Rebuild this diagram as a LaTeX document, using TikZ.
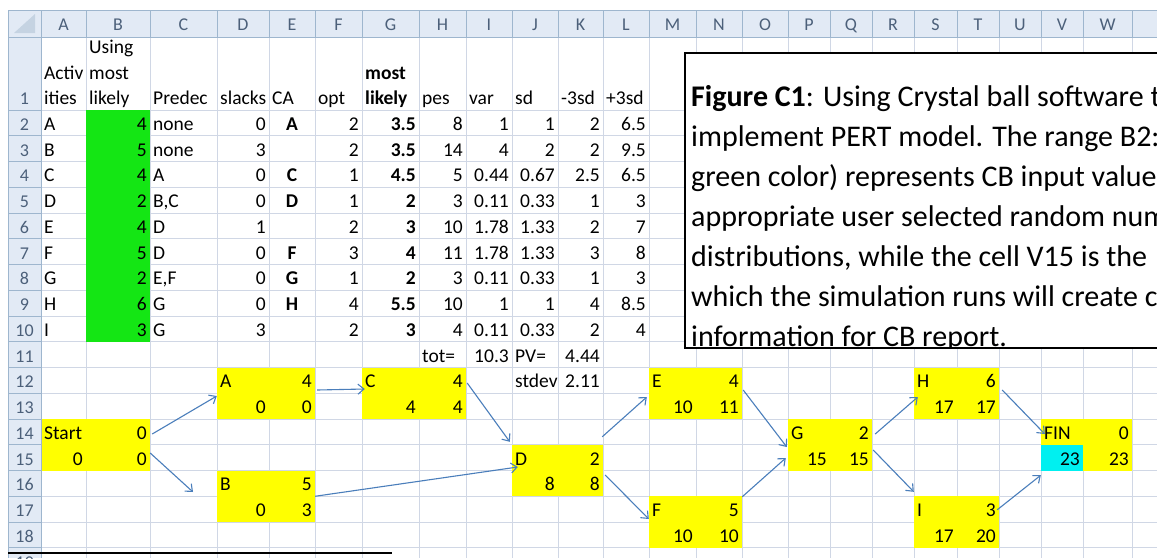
\documentclass[tikz,border=0pt]{standalone}
\usepackage{fontspec}
\setmainfont{Carlito}
\usetikzlibrary{arrows.meta,calc}
\definecolor{gridc}{RGB}{208,215,229}
\definecolor{hdrfill}{RGB}{226,234,245}
\definecolor{hdrline}{RGB}{158,182,206}
\definecolor{hdrtext}{RGB}{76,96,122}
\definecolor{xlgreen}{RGB}{20,230,20}
\definecolor{xlyellow}{RGB}{255,255,0}
\definecolor{xlcyan}{RGB}{0,240,240}
\definecolor{arrowblue}{RGB}{74,126,187}
\newcommand\cellfont{\fontsize{19.5}{22}\selectfont}
\newcommand\boxfont{\fontsize{30}{36}\selectfont}
\newcommand\setcol[3]{\expandafter\def\csname cl#1\endcsname{#2}\expandafter\def\csname cr#1\endcsname{#3}}
\setcol{A}{41}{86}\setcol{B}{86}{150}\setcol{C}{150}{217}\setcol{D}{217}{269}
\setcol{E}{269}{315}\setcol{F}{315}{362}\setcol{G}{362}{419}\setcol{H}{419}{466}
\setcol{I}{466}{512}\setcol{J}{512}{558}\setcol{K}{558}{603}\setcol{L}{603}{649}
\setcol{M}{649}{696}\setcol{N}{696}{742}\setcol{O}{742}{788}\setcol{P}{788}{830}
\setcol{Q}{830}{872}\setcol{R}{872}{914}\setcol{S}{914}{957}\setcol{T}{957}{999}
\setcol{U}{999}{1041}\setcol{V}{1041}{1083}\setcol{W}{1083}{1132}
\newcommand\rowbase[1]{\pgfmathsetmacro\yb{110+(#1-1)*25.75-5.5}}
\newcommand\xlR[3]{\rowbase{#2}\pgfmathsetmacro\xx{\csname cr#1\endcsname-3}%
  \node[ct,anchor=base east] (c#1#2) at (\xx,\yb) {#3};}
\newcommand\xlL[3]{\rowbase{#2}\pgfmathsetmacro\xx{\csname cl#1\endcsname+3}%
  \node[ct,anchor=base west] (c#1#2) at (\xx,\yb) {#3};}
\newcommand\xlC[3]{\rowbase{#2}\pgfmathsetmacro\xx{(\csname cl#1\endcsname+\csname cr#1\endcsname)/2}%
  \node[ct,anchor=base] (c#1#2) at (\xx,\yb) {#3};}
\tikzset{
  ct/.style={inner sep=0pt,font=\cellfont},
  ybox/.style={fill=xlyellow,inner sep=0pt,draw=none},
  conn/.style={draw=arrowblue,line width=1.1pt,-{Straight Barb[length=6pt,width=10pt]}},
  gridl/.style={draw=gridc,line width=0.9pt},
  hdrl/.style={draw=hdrline,line width=0.8pt},
  hdrt/.style={inner sep=0pt,font=\fontsize{18}{20}\selectfont,text=hdrtext},
  boxt/.style={inner sep=0pt,font=\boxfont,anchor=base west}
}
\begin{document}
\begin{tikzpicture}[x=1pt,y=-1pt]
\useasboundingbox (0,0) rectangle (1157,558);
\clip (0,0) rectangle (1157,558);
\fill[white] (0,0) rectangle (1157,558);
% grid
\foreach \x in {41,86,150,217,269,315,362,419,466,512,558,603,649,696,742,788,830,872,914,957,999,1041,1083,1132}
  \draw[gridl] (\x,37) -- (\x,558);
\foreach \k in {0,...,18}
  \draw[gridl] (41,{110+\k*25.75}) -- (1157,{110+\k*25.75});
% fills
\fill[xlgreen] (86,110) rectangle (150,341.75);
\node[ybox,minimum width=109pt,minimum height=51.5pt] (nStart) at (95.5,444.75) {};
\node[ybox,minimum width=98pt,minimum height=51.5pt] (nA) at (266,393.25) {};
\node[ybox,minimum width=104pt,minimum height=51.5pt] (nC) at (414,393.25) {};
\node[ybox,minimum width=98pt,minimum height=51.5pt] (nB) at (266,496.25) {};
\node[ybox,minimum width=91pt,minimum height=51.5pt] (nD) at (557.5,470.5) {};
\node[ybox,minimum width=93pt,minimum height=51.5pt] (nE) at (695.5,393.25) {};
\node[ybox,minimum width=93pt,minimum height=51.5pt] (nF) at (695.5,522) {};
\node[ybox,minimum width=84pt,minimum height=51.5pt] (nG) at (830,444.75) {};
\node[ybox,minimum width=85pt,minimum height=51.5pt] (nH) at (956.5,393.25) {};
\node[ybox,minimum width=85pt,minimum height=51.5pt] (nI) at (956.5,522) {};
\node[ybox,minimum width=91pt,minimum height=51.5pt] (nFIN) at (1086.5,444.75) {};
\fill[xlcyan] (1041,444.75) rectangle (1083,470.5);
% header row
\fill[hdrfill] (8,10) rectangle (1157,37);
\fill[hdrfill] (8,37) rectangle (41,558);
\foreach \x in {41,86,150,217,269,315,362,419,466,512,558,603,649,696,742,788,830,872,914,957,999,1041,1083,1132}
  \draw[hdrl] (\x,10) -- (\x,37);
\foreach \k in {0,...,18}
  \draw[hdrl] (8,{110+\k*25.75}) -- (41,{110+\k*25.75});
\draw[hdrl] (8,10) -- (1157,10);
\draw[hdrl] (8,37) -- (1157,37);
\draw[hdrl] (41,10) -- (41,558);
\draw[hdrl] (8,10) -- (8,558);
\fill[hdrline!60] (35,14) -- (35,33) -- (14,33) -- cycle;
\foreach \c/\m in {A/63.5,B/118,C/183.5,D/243,E/292,F/338.5,G/390.5,H/442.5,I/489,J/535,K/580.5,L/626,M/672.5,N/719,O/765,P/809,Q/851,R/893,S/935.5,T/978,U/1020,V/1062,W/1107.5}
  \node[hdrt,anchor=base] (h\c) at (\m,30) {\c};
\node[hdrt,anchor=base] (r1) at (24.5,104.5) {1};
\foreach \r in {2,...,19}{
  \pgfmathsetmacro\yy{110+(\r-1)*25.75-5.5}
  \node[hdrt,anchor=base] (r\r) at (24.5,\yy) {\r};
}
% row 1 headings
\node[ct,anchor=base west] (hA1) at (44,79) {Activ};
\node[ct,anchor=base west] (hA2) at (44,104.5) {ities};
\node[ct,anchor=base west] (hB0) at (89,53) {Using};
\node[ct,anchor=base west] (hB1) at (89,79) {most};
\node[ct,anchor=base west] (hB2) at (89,104.5) {likely};
\node[ct,anchor=base west] (hC) at (153,104.5) {Predec};
\node[ct,anchor=base west] (hD) at (220,104.5) {slacks};
\node[ct,anchor=base west] (hE) at (272,104.5) {CA};
\node[ct,anchor=base west] (hF) at (318,104.5) {opt};
\node[ct,anchor=base west] (hG1) at (365,79) {\textbf{most}};
\node[ct,anchor=base west] (hG2) at (365,104.5) {\textbf{likely}};
\node[ct,anchor=base west] (hH) at (422,104.5) {pes};
\node[ct,anchor=base west] (hI) at (469,104.5) {var};
\node[ct,anchor=base west] (hJ) at (515,104.5) {sd};
\node[ct,anchor=base west] (hK) at (561,104.5) {-3sd};
\node[ct,anchor=base west] (hL) at (606,104.5) {+3sd};
% table body
\foreach \v [count=\i from 2] in {A,B,C,D,E,F,G,H,I} {\xlL{A}{\i}{\v}}
\foreach \v [count=\i from 2] in {4,5,4,2,4,5,2,6,3} {\xlR{B}{\i}{\v}}
\foreach \v [count=\i from 2] in {none,none,A,{B,C},D,D,{E,F},G,G} {\xlL{C}{\i}{\v}}
\foreach \v [count=\i from 2] in {0,3,0,0,1,0,0,0,3} {\xlR{D}{\i}{\v}}
\foreach \i/\v in {2/A,4/C,5/D,7/F,8/G,9/H} {\xlC{E}{\i}{\textbf{\v}}}
\foreach \v [count=\i from 2] in {2,2,1,1,2,3,1,4,2} {\xlR{F}{\i}{\v}}
\foreach \v [count=\i from 2] in {3.5,3.5,4.5,2,3,4,2,5.5,3} {\xlR{G}{\i}{\textbf{\v}}}
\foreach \v [count=\i from 2] in {8,14,5,3,10,11,3,10,4} {\xlR{H}{\i}{\v}}
\foreach \v [count=\i from 2] in {1,4,0.44,0.11,1.78,1.78,0.11,1,0.11} {\xlR{I}{\i}{\v}}
\foreach \v [count=\i from 2] in {1,2,0.67,0.33,1.33,1.33,0.33,1,0.33} {\xlR{J}{\i}{\v}}
\foreach \v [count=\i from 2] in {2,2,2.5,1,2,3,1,4,2} {\xlR{K}{\i}{\v}}
\foreach \v [count=\i from 2] in {6.5,9.5,6.5,3,7,8,3,8.5,4} {\xlR{L}{\i}{\v}}
\xlL{H}{11}{tot=}\xlR{I}{11}{10.3}\xlL{J}{11}{PV=}\xlR{K}{11}{4.44}
\xlL{J}{12}{stdev}\xlR{K}{12}{2.11}
% network box texts
\xlL{A}{14}{Start}\xlR{B}{14}{0}\xlR{A}{15}{0}\xlR{B}{15}{0}
\xlL{D}{12}{A}\xlR{E}{12}{4}\xlR{D}{13}{0}\xlR{E}{13}{0}
\xlL{G}{12}{C}\xlR{H}{12}{4}\xlR{G}{13}{4}\xlR{H}{13}{4}
\xlL{D}{16}{B}\xlR{E}{16}{5}\xlR{D}{17}{0}\xlR{E}{17}{3}
\xlL{J}{15}{D}\xlR{K}{15}{2}\xlR{J}{16}{8}\xlR{K}{16}{8}
\xlL{M}{12}{E}\xlR{N}{12}{4}\xlR{M}{13}{10}\xlR{N}{13}{11}
\xlL{M}{17}{F}\xlR{N}{17}{5}\xlR{M}{18}{10}\xlR{N}{18}{10}
\xlL{P}{14}{G}\xlR{Q}{14}{2}\xlR{P}{15}{15}\xlR{Q}{15}{15}
\xlL{S}{12}{H}\xlR{T}{12}{6}\xlR{S}{13}{17}\xlR{T}{13}{17}
\xlL{S}{17}{I}\xlR{T}{17}{3}\xlR{S}{18}{17}\xlR{T}{18}{20}
\xlL{V}{14}{FIN}\xlR{W}{14}{0}\xlR{V}{15}{23}\xlR{W}{15}{23}
% connectors
\coordinate (sb) at (193,492);
\draw[conn] ([shift={(2,-10.75)}]nStart.east) -- ([shift={(0,2.75)}]nA.west);
\draw[conn] ([shift={(0,8.25)}]nStart.east) -- (sb);
\draw[conn] ([shift={(2,-3.25)}]nA.east) -- ([shift={(3,-4.25)}]nC.west);
\draw[conn] (nB.east) -- ([shift={(6,-3.5)}]nD.west);
\draw[conn] ([shift={(1,-10.25)}]nC.east) -- ([shift={(-2,-2.75)}]nD.north west);
\draw[conn] ([shift={(-1,-7.75)}]nD.north east) -- ([shift={(-2,3.75)}]nE.west);
\draw[conn] ([shift={(2,4.5)}]nD.east) -- ([shift={(0,-3)}]nF.west);
\draw[conn] ([shift={(1,-3.25)}]nE.east) -- ([shift={(-1,2.25)}]nG.west);
\draw[conn] ([shift={(0,0.75)}]nF.north east) -- ([shift={(-2,13.25)}]nG.west);
\draw[conn] ([shift={(3,-10.75)}]nG.east) -- ([shift={(4,3.75)}]nH.west);
\draw[conn] ([shift={(1,5.25)}]nG.east) -- ([shift={(0,-4.25)}]nI.north west);
\draw[conn] ([shift={(3,-3.25)}]nH.east) -- ([shift={(4,-10.75)}]nFIN.west);
\draw[conn] ([shift={(-2,13.75)}]nI.north east) -- ([shift={(0,4.5)}]nFIN.south west);
% text box
\draw[fill=white,draw=black,line width=2pt] (685,53) rectangle (1175,348);
\begin{scope}
\clip (686,54) rectangle (1157,347);
\node[boxt] (bt1) at (691,106) {\textbf{Figure C1}: Using Crystal ball software t};
\node[boxt] (bt2) at (691,146) {implement PERT model. The range B2:};
\node[boxt] (bt3) at (691,186) {green color) represents CB input value};
\node[boxt] (bt4) at (691,226) {appropriate user selected random num};
\node[boxt] (bt5) at (691,266) {distributions, while the cell V15 is the};
\node[boxt] (bt6) at (691,306) {which the simulation runs will create c};
\node[boxt] (bt7) at (691,346) {information for CB report.};
\end{scope}
% bottom line of another box
\draw[black,line width=2pt] (8,553) -- (392,553);
\end{tikzpicture}
\end{document}
